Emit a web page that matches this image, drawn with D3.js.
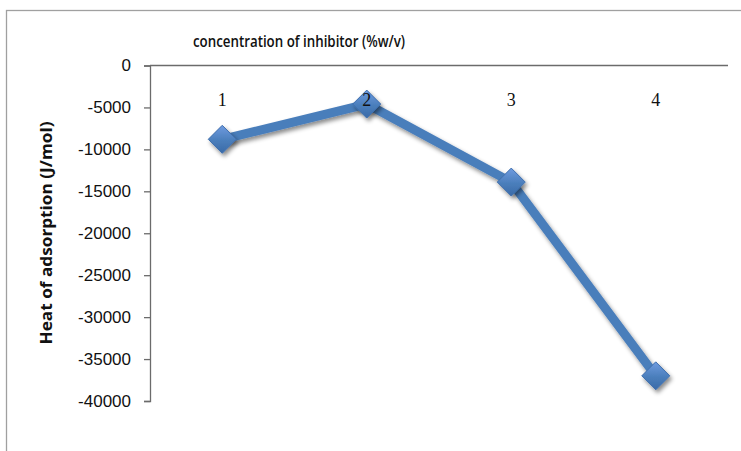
<!DOCTYPE html>
<html>
<head>
<meta charset="utf-8">
<script src="https://cdn.jsdelivr.net/npm/d3@7"></script>
<style>
  body { margin: 0; background: #fff; }
  svg { display: block; }
</style>
</head>
<body>
<div id="chart"></div>
<script>
const categories = ['1', '2', '3', '4'];
const heatValues = [-8800, -4600, -13900, -37000];
const yTicks = [0, -5000, -10000, -15000, -20000, -25000, -30000, -35000, -40000];

const width = 741;
const height = 451;

const svg = d3.select('#chart')
    .append('svg')
    .attr('width', width)
    .attr('height', height);

// outer chart border (cut off at the bottom/right like the picture)
svg.append('rect')
    .attr('x', 6.5)
    .attr('y', 10.5)
    .attr('width', 745)
    .attr('height', 460)
    .attr('fill', 'none')
    .attr('stroke', '#a0a0a0')
    .attr('stroke-width', 1.3);

const x = d3.scaleBand()
    .domain(categories)
    .range([150, 728]);

const y = d3.scaleLinear()
    .domain([-40000, 0])
    .range([401, 65.5]);

// shadow + gradient for markers
const defs = svg.append('defs');
const shadow = defs.append('filter')
    .attr('id', 'shadow')
    .attr('x', '-50%').attr('y', '-50%')
    .attr('width', '200%').attr('height', '200%');
shadow.append('feDropShadow')
    .attr('dx', 2).attr('dy', 3)
    .attr('stdDeviation', 2)
    .attr('flood-color', '#000')
    .attr('flood-opacity', 0.45);

const grad = defs.append('linearGradient')
    .attr('id', 'mgrad')
    .attr('x1', 0).attr('y1', 0)
    .attr('x2', 0).attr('y2', 1);
grad.append('stop').attr('offset', '0%').attr('stop-color', '#6f9be0');
grad.append('stop').attr('offset', '55%').attr('stop-color', '#4a7ebb');
grad.append('stop').attr('offset', '100%').attr('stop-color', '#3a6aa8');

// y axis
const yAxis = d3.axisLeft(y)
    .tickValues(yTicks)
    .tickSize(6)
    .tickPadding(13)
    .tickFormat(d => d === 0 ? '0' : String(d).replace('−', '-'));

const yg = svg.append('g')
    .attr('transform', 'translate(150,0)')
    .call(yAxis);
yg.select('.domain').attr('stroke', '#6b6b6b').attr('stroke-width', 1.3);
yg.selectAll('.tick line').attr('stroke', '#6b6b6b').attr('stroke-width', 1.3);
yg.selectAll('.tick text')
    .attr('fill', '#111')
    .style('font-family', '"Liberation Sans", Arial, sans-serif')
    .style('font-size', '17px');

// x axis line at 0 (top)
svg.append('line')
    .attr('x1', x.range()[0])
    .attr('x2', x.range()[1])
    .attr('y1', y(0))
    .attr('y2', y(0))
    .attr('stroke', '#6b6b6b')
    .attr('stroke-width', 1.3);

// line
const points = categories.map((c, i) => ({ cat: c, value: heatValues[i] }));
const line = d3.line()
    .x(d => x(d.cat) + x.bandwidth() / 2)
    .y(d => y(d.value));

svg.append('path')
    .datum(points)
    .attr('d', line)
    .attr('fill', 'none')
    .attr('stroke', '#4a7ebb')
    .attr('stroke-width', 9)
    .attr('stroke-linejoin', 'round')
    .attr('filter', 'url(#shadow)');

// diamond markers
svg.append('g')
    .selectAll('path')
    .data(points)
    .enter()
    .append('path')
    .attr('transform', d => `translate(${x(d.cat) + x.bandwidth() / 2},${y(d.value)})`)
    .attr('d', 'M0,-14L14,0L0,14L-14,0Z')
    .attr('fill', 'url(#mgrad)')
    .attr('stroke', '#3f6fad')
    .attr('stroke-width', 1)
    .attr('filter', 'url(#shadow)');

// category labels (drawn over the series, like the picture)
svg.append('g')
    .selectAll('text')
    .data(categories)
    .enter()
    .append('text')
    .attr('x', d => x(d) + x.bandwidth() / 2)
    .attr('y', 106)
    .attr('text-anchor', 'middle')
    .style('font-family', '"Liberation Serif", "Times New Roman", serif')
    .style('font-size', '18px')
    .attr('fill', '#111')
    .text(d => d);

// titles
svg.append('text')
    .attr('x', 299)
    .attr('y', 47)
    .attr('text-anchor', 'middle')
    .attr('textLength', 212)
    .attr('lengthAdjust', 'spacingAndGlyphs')
    .style('font-family', '"Open Sans", "Liberation Sans", sans-serif')
    .style('font-size', '16px')
    .style('font-weight', 600)
    .attr('fill', '#111')
    .text('concentration of inhibitor (%w/v)');

svg.append('text')
    .attr('transform', 'translate(52,233) rotate(-90)')
    .attr('text-anchor', 'middle')
    .attr('textLength', 223)
    .attr('lengthAdjust', 'spacingAndGlyphs')
    .style('font-family', '"Open Sans", "Liberation Sans", sans-serif')
    .style('font-size', '16px')
    .style('font-weight', 'bold')
    .attr('fill', '#111')
    .text('Heat of adsorption (J/mol)');
</script>
</body>
</html>
